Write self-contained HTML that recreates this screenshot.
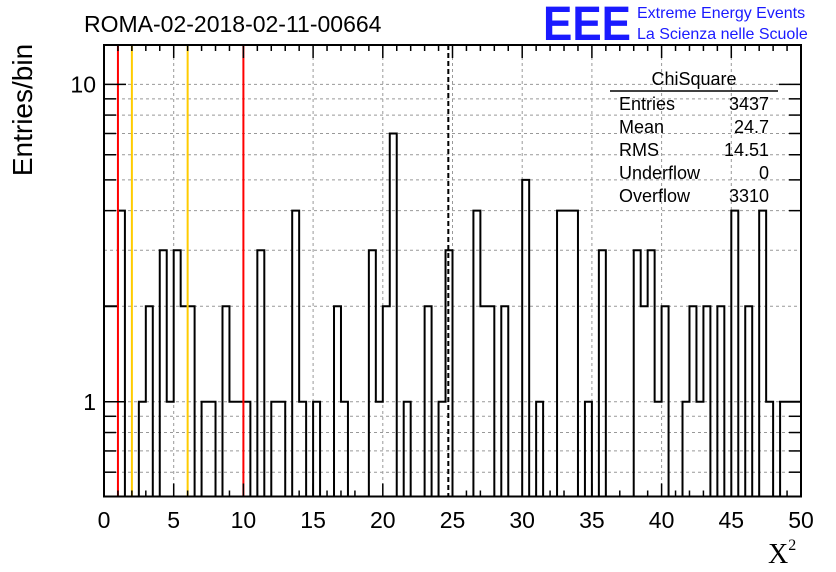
<!DOCTYPE html>
<html><head><meta charset="utf-8"><style>
html,body{margin:0;padding:0;background:#fff;}
svg{display:block;font-family:"Liberation Sans",sans-serif;}
</style></head><body>
<svg id="c" width="836" height="572" viewBox="0 0 836 572">
<text x="84" y="32" font-size="23">ROMA-02-2018-02-11-00664</text>
<text x="543" y="40" font-size="48" font-weight="bold" fill="#1a1aff" textLength="88" lengthAdjust="spacingAndGlyphs">EEE</text>
<text x="637" y="18" font-size="16" fill="#1a1aff">Extreme Energy Events</text>
<text x="637" y="39" font-size="16" fill="#1a1aff">La Scienza nelle Scuole</text>
<text transform="translate(32,110) rotate(-90)" text-anchor="middle" font-size="28">Entries/bin</text>
<text x="768" y="563" font-size="28" font-family="Liberation Serif,serif">X<tspan font-size="16" dy="-13">2</tspan></text>
<g id="stats">
<text x="694" y="85" font-size="18" text-anchor="middle">ChiSquare</text>
<line x1="610" y1="91" x2="778" y2="91" stroke="#000" stroke-width="1.5"/>
</g>
</svg>
<script>
const counts=[2,2,4,0,0,1,2,0,3,1,3,2,2,0,1,1,0,2,1,1,1,0,3,0,1,1,0,4,1,0,1,0,0,2,1,0,0,0,3,1,2,7,0,1,0,0,2,0,1,3,0,0,0,4,2,2,0,2,0,0,5,0,1,0,0,4,4,4,0,1,0,3,0,0,0,0,3,2,3,1,2,0,0,1,2,1,2,0,2,0,4,0,2,0,4,1,0,1,1,1];
const xTicks=[0,5,10,15,20,25,30,35,40,45,50];
const yTicks=[1,10];
const statLabels=["Entries","Mean","RMS","Underflow","Overflow"];
const statValues=["3437","24.7","14.51","0","3310"];
const redLines=[1,10];
const yellowLines=[2,6];
const meanLine=24.7;
const X0=104,X1=801,Y0=496.5,Y1=45,XMIN=0,XMAX=50,YMIN=0.503,YMAX=13.3;
const NS='http://www.w3.org/2000/svg';
const svg=document.getElementById('c');
function sx(u){return X0+(u-XMIN)/(XMAX-XMIN)*(X1-X0);}
function sy(v){if(v<=YMIN)return Y0;return Y0-(Math.log10(v)-Math.log10(YMIN))/(Math.log10(YMAX)-Math.log10(YMIN))*(Y0-Y1);}
function el(t,a,p){const e=document.createElementNS(NS,t);for(const k in a)e.setAttribute(k,a[k]);(p||svg).appendChild(e);return e;}
const grid=el('g',{});


for(let i=1;i<xTicks.length-1;i++){const x=sx(xTicks[i]);el('line',{x1:x,x2:x,y1:Y1,y2:Y0,stroke:'#999','stroke-dasharray':'3,3','stroke-width':1},grid);}
const gy=[0.6,0.7,0.8,0.9,1,2,3,4,5,6,7,8,9,10];
gy.forEach(v=>{const y=sy(v);el('line',{x1:X0,x2:X1,y1:y,y2:y,stroke:'#999','stroke-dasharray':'3,3','stroke-width':1},grid);});
const bw=(XMAX-XMIN)/counts.length;
let d='M'+sx(0)+','+Y0;
counts.forEach((c,i)=>{const y=sy(c);d+=' L'+sx(i*bw)+','+y+' L'+sx((i+1)*bw)+','+y;});
d+=' L'+sx(XMAX)+','+Y0;
const h=el('path',{d:d,fill:'none',stroke:'#000','stroke-width':2});


redLines.forEach(u=>{const l=el('line',{x1:sx(u),x2:sx(u),y1:Y1,y2:Y0,stroke:'#ff0000','stroke-width':2});

});
yellowLines.forEach(u=>{const l=el('line',{x1:sx(u),x2:sx(u),y1:Y1,y2:Y0,stroke:'#ffcc00','stroke-width':2});

});
const ml=el('line',{x1:sx(meanLine),x2:sx(meanLine),y1:Y1,y2:Y0,stroke:'#000','stroke-width':2,'stroke-dasharray':'5,3'});


const fr=el('rect',{x:X0,y:Y1,width:X1-X0,height:Y0-Y1,fill:'none',stroke:'#000','stroke-width':2});


for(let u=XMIN;u<=XMAX;u++){const x=sx(u);const L=(u%5===0)?13:6;
el('line',{x1:x,x2:x,y1:Y0,y2:Y0-L,stroke:'#000','stroke-width':1.5});
el('line',{x1:x,x2:x,y1:Y1,y2:Y1+L,stroke:'#000','stroke-width':1.5});}
xTicks.forEach(u=>{const t=el('text',{x:sx(u),y:528,'font-size':23,'text-anchor':'middle'});t.textContent=u;

});
const minorY=[0.6,0.7,0.8,0.9,4,5,6,7,8,9];
minorY.forEach(v=>{const y=sy(v);el('line',{x1:X0,x2:X0+12,y1:y,y2:y,stroke:'#000','stroke-width':1.5});el('line',{x1:X1,x2:X1-12,y1:y,y2:y,stroke:'#000','stroke-width':1.5});});
yTicks.forEach(v=>{const y=sy(v);el('line',{x1:X0,x2:X0+22,y1:y,y2:y,stroke:'#000','stroke-width':1.5});el('line',{x1:X1,x2:X1-22,y1:y,y2:y,stroke:'#000','stroke-width':1.5});
const t=el('text',{x:96,y:y+8,'font-size':23,'text-anchor':'end'});t.textContent=v;

});
const sg=document.getElementById('stats');
statLabels.forEach((s,i)=>{const y=110+i*23;
const a=el('text',{x:619,y:y,'font-size':18},sg);a.textContent=s;


const b=el('text',{x:769,y:y,'font-size':18,'text-anchor':'end'},sg);b.textContent=statValues[i];

});
svg.appendChild(sg);
</script>
</body></html>
